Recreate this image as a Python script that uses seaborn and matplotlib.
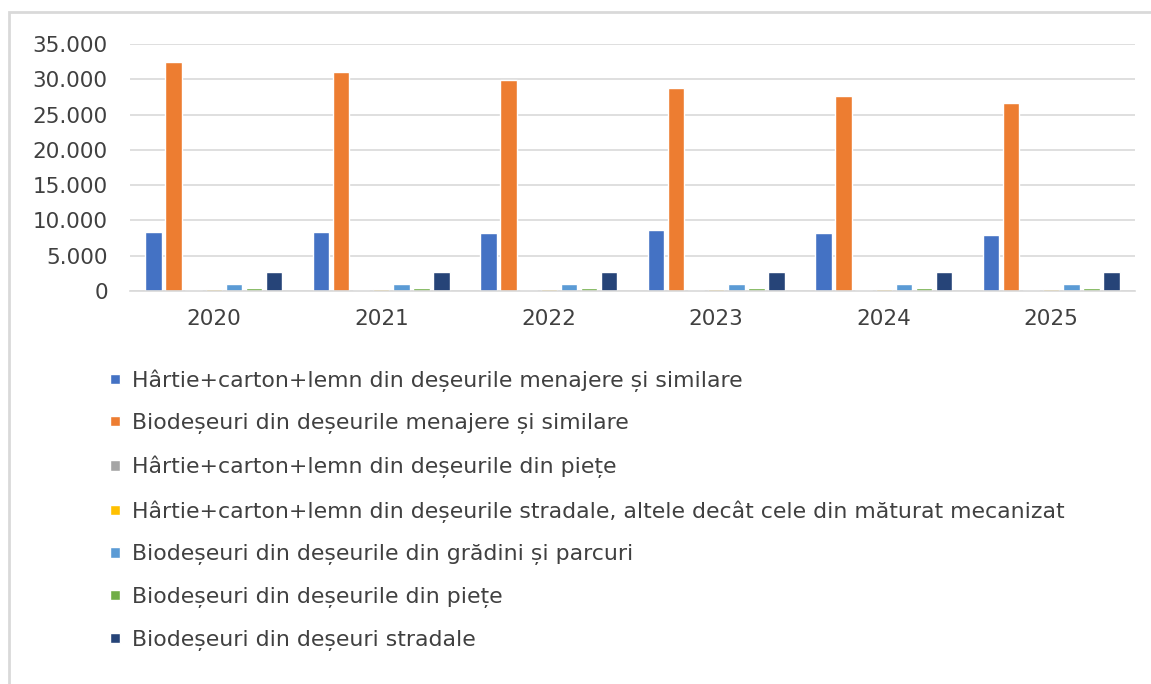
import pandas as pd
import matplotlib.pyplot as plt
import seaborn as sns
from matplotlib.ticker import FuncFormatter

sns.set_style("white")
plt.rcParams['font.family'] = ['DejaVu Sans']

# Data
years = ['2020', '2021', '2022', '2023', '2024', '2025']
series = [
    'Hârtie+carton+lemn din deșeurile menajere și similare',
    'Biodeșeuri din deșeurile menajere și similare',
    'Hârtie+carton+lemn din deșeurile din piețe',
    'Hârtie+carton+lemn din deșeurile stradale, altele decât cele din măturat mecanizat',
    'Biodeșeuri din deșeurile din grădini și parcuri',
    'Biodeșeuri din deșeurile din piețe',
    'Biodeșeuri din deșeuri stradale',
]
hartie_menajere = [8400, 8400, 8200, 8600, 8200, 8000]
bio_menajere = [32400, 31000, 29900, 28800, 27600, 26600]
hartie_piete = [100, 100, 100, 100, 100, 100]
hartie_stradale = [250, 250, 250, 250, 250, 250]
bio_gradini = [1050, 1050, 1050, 1050, 1050, 1050]
bio_piete = [400, 400, 400, 400, 400, 400]
bio_stradale = [2700, 2700, 2700, 2700, 2700, 2700]
colors = ['#4472C4', '#ED7D31', '#A5A5A5', '#FFC000', '#5B9BD5', '#70AD47', '#264478']

values = [hartie_menajere, bio_menajere, hartie_piete, hartie_stradale,
          bio_gradini, bio_piete, bio_stradale]
rows = []
for name, vals in zip(series, values):
    for y, v in zip(years, vals):
        rows.append({'An': y, 'Serie': name, 'Valoare': v})
df = pd.DataFrame(rows)

fig = plt.figure(figsize=(11.51, 6.84), dpi=100)
ax = fig.add_axes([130 / 1151, 1 - 291 / 684, 1005 / 1151, 247 / 684])

sns.barplot(data=df, x='An', y='Valoare', hue='Serie', palette=colors,
            width=0.84, gap=0.18, ax=ax, saturation=1)

ax.set_ylim(0, 35000)
ax.set_yticks(range(0, 35001, 5000))
ax.yaxis.set_major_formatter(FuncFormatter(lambda v, p: f'{int(v):,}'.replace(',', '.')))
ax.grid(axis='y', color='#D9D9D9', linewidth=1.2)
ax.set_axisbelow(True)
for s in ['top', 'right', 'left']:
    ax.spines[s].set_visible(False)
ax.spines['bottom'].set_color('#D9D9D9')
ax.spines['bottom'].set_linewidth(1.2)
ax.tick_params(axis='y', length=0, pad=16, labelsize=15.5, labelcolor='#404040')
ax.tick_params(axis='x', length=0, pad=13, labelsize=15.5, labelcolor='#404040')
ax.set_xlabel('')
ax.set_ylabel('')

handles, labels = ax.get_legend_handles_labels()
ax.get_legend().remove()
fig.legend(handles, labels, loc='upper left', bbox_to_anchor=(110 / 1151, 1 - 369 / 684),
           frameon=False, fontsize=15.8, labelspacing=0.99, handlelength=0.45,
           handleheight=0.34, handletextpad=0.55, borderpad=0, borderaxespad=0,
           labelcolor='#404040')

# light outer border of the chart area
fig.add_artist(plt.Rectangle((9 / 1151, -0.01), 1.05, 1 - 12 / 684 + 0.01,
                             transform=fig.transFigure, fill=False,
                             edgecolor='#D9D9D9', linewidth=2))

fig.savefig('out.png', dpi=100)
